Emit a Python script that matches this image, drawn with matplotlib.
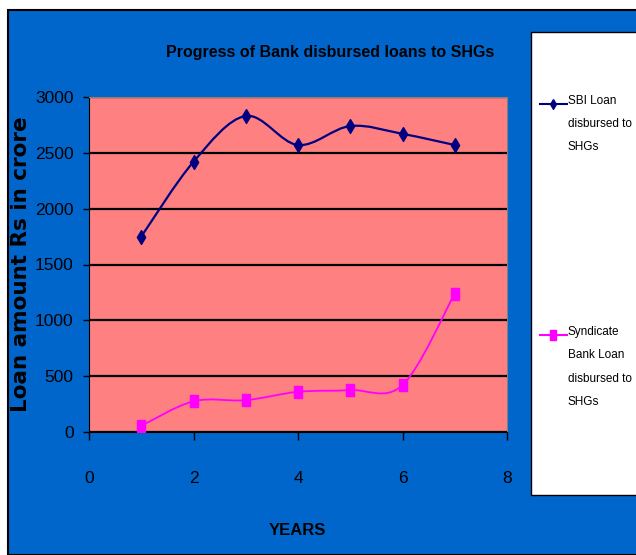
import numpy as np
import matplotlib
matplotlib.use("Agg")
import matplotlib.pyplot as plt
from matplotlib.patches import Rectangle, PathPatch
from matplotlib.path import Path
from matplotlib.lines import Line2D

years = [1, 2, 3, 4, 5, 6, 7]
sbi_loans = [1750, 2420, 2830, 2570, 2740, 2670, 2570]
synd_loans = [55, 275, 285, 360, 375, 420, 1240]

title = "Progress of Bank disbursed loans to SHGs"
sbi_label = "SBI Loan\ndisbursed to\nSHGs"
synd_label = "Syndicate\nBank Loan\ndisbursed to\nSHGs"

plt.rcParams['font.family'] = ['Liberation Sans', 'DejaVu Sans']

W, H = 636, 555
fig = plt.figure(figsize=(W / 100, H / 100), dpi=100, facecolor="white")


def fx(px):
    return px / W


def fy(py):
    return 1 - py / H


# blue slide background
fig.patches.append(Rectangle((fx(8), 0), 1, fy(10), transform=fig.transFigure,
                             facecolor="#0066CC", edgecolor="black", lw=1.5, zorder=-2))
# legend box
fig.patches.append(Rectangle((fx(531), fy(495)), fx(120), fy(32) - fy(495),
                             transform=fig.transFigure, facecolor="white",
                             edgecolor="black", lw=1, zorder=-1))

ax = fig.add_axes([fx(89), fy(432), fx(507) - fx(89), fy(97) - fy(432)])
ax.set_facecolor("#FF8080")


def smooth_path(xs, ys):
    # Excel-like smoothed line: Catmull-Rom segments as cubic Beziers
    xs = np.asarray(xs, float)
    ys = np.asarray(ys, float)
    n = len(xs)
    verts = [(xs[0], ys[0])]
    codes = [Path.MOVETO]
    for i in range(n - 1):
        p0 = i - 1 if i > 0 else i
        p3 = i + 2 if i + 2 < n else i + 1
        c1 = (xs[i] + (xs[i + 1] - xs[p0]) / 6, ys[i] + (ys[i + 1] - ys[p0]) / 6)
        c2 = (xs[i + 1] - (xs[p3] - xs[i]) / 6, ys[i + 1] - (ys[p3] - ys[i]) / 6)
        verts += [c1, c2, (xs[i + 1], ys[i + 1])]
        codes += [Path.CURVE4] * 3
    return Path(verts, codes)


ax.add_patch(PathPatch(smooth_path(years, sbi_loans), facecolor="none",
                       edgecolor="#000080", lw=1.6, zorder=3))
ax.add_patch(PathPatch(smooth_path(years, synd_loans), facecolor="none",
                       edgecolor="#FF00FF", lw=1.3, zorder=3))

tall_diamond = [(0, 1), (0.6, 0), (0, -1), (-0.6, 0), (0, 1)]
tall_rect = [(-0.6, -1), (0.6, -1), (0.6, 1), (-0.6, 1), (-0.6, -1)]
ax.plot(years, sbi_loans, linestyle="none", marker=tall_diamond, markersize=10,
        color="#000080", zorder=4)
ax.plot(years, synd_loans, linestyle="none", marker=tall_rect, markersize=9,
        color="#FF00FF", zorder=4)

ax.set_xlim(0, 8)
ax.set_ylim(0, 3000)
ax.set_xticks(range(0, 9, 2))
ax.set_yticks(range(0, 3001, 500))
ax.yaxis.grid(True, color="black", lw=1.6)
ax.set_axisbelow(True)

for s in ["top", "right"]:
    ax.spines[s].set_color("#808080")
ax.spines["left"].set_color("black")
ax.spines["bottom"].set_color("black")
ax.tick_params(axis="y", direction="out", length=4, width=1, labelsize=12.5, pad=7)
ax.tick_params(axis="x", direction="out", length=6, width=1, labelsize=12.5, pad=22)

ax.set_xlabel("YEARS", fontsize=12, fontweight="bold")
ax.xaxis.set_label_coords((297 - 89) / 418, -(523 - 432) / 335)
ax.set_ylabel("Loan amount Rs in crore", fontsize=15.5, fontweight="bold",
              family=['DejaVu Sans'])
ax.yaxis.set_label_coords(-(89 - 31) / 418, 0.5)

fig.text(fx(330), fy(52), title, ha="center", va="center", fontsize=11.5,
         fontweight="bold")

# legend entries
for y_px, color, marker, label in [(104, "#000080", tall_diamond, sbi_label),
                                   (335, "#FF00FF", tall_rect, synd_label)]:
    fig.add_artist(Line2D([fx(540), fx(567)], [fy(y_px), fy(y_px)],
                          transform=fig.transFigure, color=color, lw=1.5))
    fig.add_artist(Line2D([fx(553)], [fy(y_px)], transform=fig.transFigure,
                          color=color, marker=marker, markersize=7))
    fig.text(fx(568), fy(y_px - 9), label, ha="left", va="top", fontsize=8.5,
             linespacing=2.25)

fig.savefig("out.png", dpi=100, facecolor="white")
